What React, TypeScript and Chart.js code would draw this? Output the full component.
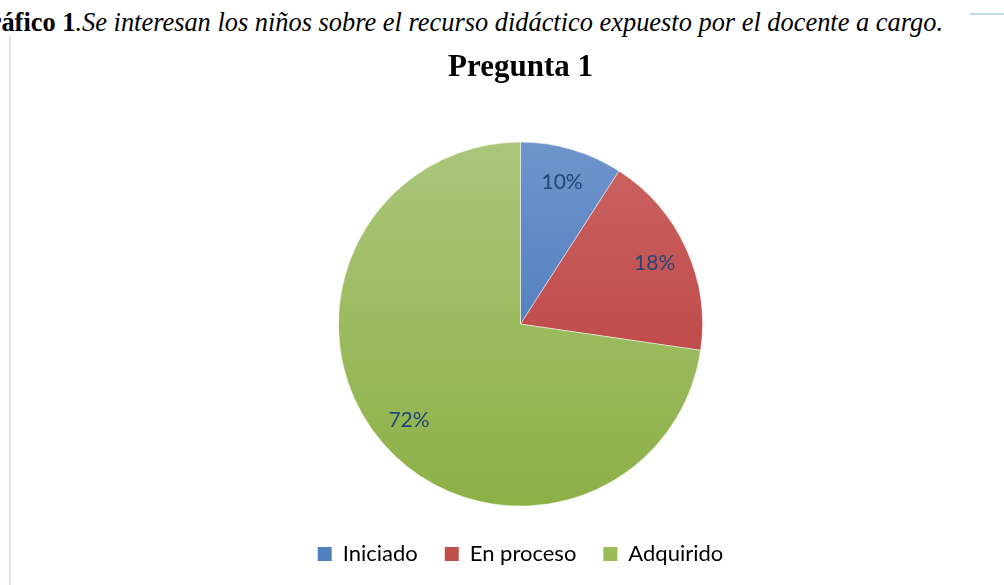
import React, { useEffect, useRef } from "react";
import { Chart, registerables } from "chart.js";

Chart.register(...registerables);

const categories = ["Iniciado", "En proceso", "Adquirido"];
const values = [9.1, 18.2, 72.7];
const percentLabels = ["10%", "18%", "72%"];
const titleText = "Pregunta 1";
const captionBold = "Gráfico 1";
const captionItalic = ".Se interesan los niños sobre el recurso didáctico expuesto por el docente a cargo.";

const gradTop = ["#6e94cc", "#cb6462", "#abc67b"];
const gradBottom = ["#3d6fb3", "#b7393a", "#8cb046"];
const flatColors = ["#4f81bd", "#c0504d", "#9bbb59"];

const labelPlugin = {
  id: "sliceLabels",
  afterDatasetsDraw(chart: any) {
    const ctx = chart.ctx;
    const meta = chart.getDatasetMeta(0);
    ctx.save();
    ctx.font = "21px Lato";
    ctx.fillStyle = "#254679";
    ctx.textAlign = "center";
    ctx.textBaseline = "middle";
    meta.data.forEach((arc: any, i: number) => {
      const p = arc.getProps(["x", "y", "startAngle", "endAngle", "outerRadius"], true);
      const mid = (p.startAngle + p.endAngle) / 2;
      const r = p.outerRadius * 0.81;
      ctx.fillText(percentLabels[i], p.x + Math.cos(mid) * r, p.y + Math.sin(mid) * r);
    });
    ctx.restore();
  },
};

export default function App() {
  const ref = useRef<HTMLCanvasElement>(null);
  useEffect(() => {
    if (!ref.current) return;
    const chart = new Chart(ref.current, {
      type: "pie",
      data: {
        labels: categories,
        datasets: [
          {
            data: values,
            radius: 182,
            borderWidth: 0.6,
            borderColor: "rgba(255,255,255,0.8)",
            backgroundColor: (c: any) => {
              const ch = c.chart;
              const i = c.dataIndex;
              const area = ch.chartArea;
              if (!area) return flatColors[i];
              const cy = (area.top + area.bottom) / 2;
              const g = ch.ctx.createLinearGradient(0, cy - 182, 0, cy + 182);
              g.addColorStop(0, gradTop[i]);
              g.addColorStop(1, gradBottom[i]);
              return g;
            },
          },
        ],
      },
      options: {
        animation: false,
        responsive: false,
        layout: { padding: { left: 37, right: 0, top: 0, bottom: 10 } },
        plugins: {
          tooltip: { enabled: false },
          title: {
            display: true,
            text: titleText,
            color: "#000000",
            font: { family: "'Liberation Serif', 'Times New Roman', serif", size: 31, weight: "bold", lineHeight: 1.2 },
            padding: { top: 49, bottom: 46 },
          },
          legend: {
            position: "bottom",
            labels: {
              boxWidth: 14,
              boxHeight: 14,
              padding: 27,
              color: "#1f497d",
              font: { family: "Lato", size: 22 },
              generateLabels: () =>
                categories.map((t, i) => ({
                  text: t,
                  fillStyle: flatColors[i],
                  strokeStyle: flatColors[i],
                  lineWidth: 0,
                  hidden: false,
                  index: i,
                })),
            },
          },
        },
      },
      plugins: [labelPlugin],
    } as any);
    return () => chart.destroy();
  }, []);

  return (
    <div style={{ position: "fixed", left: 0, top: 0, width: 1004, height: 585, overflow: "hidden", background: "#ffffff" }}>
      <div
        style={{
          position: "absolute",
          right: 61,
          top: 7,
          whiteSpace: "nowrap",
          fontFamily: "'Liberation Serif', 'Times New Roman', serif",
          fontSize: 26.4,
          lineHeight: "30px",
          color: "#000",
        }}
      >
        <b>{captionBold}</b>
        <i>{captionItalic}</i>
      </div>
      <div style={{ position: "absolute", left: 9, top: 36, width: 2, height: 549, background: "#dbe5f1" }} />
      <div style={{ position: "absolute", left: 970, top: 13, width: 34, height: 2, background: "#c6d9f1" }} />
      <canvas ref={ref} width={1004} height={585} style={{ position: "absolute", left: 0, top: 0 }} />
    </div>
  );
}
